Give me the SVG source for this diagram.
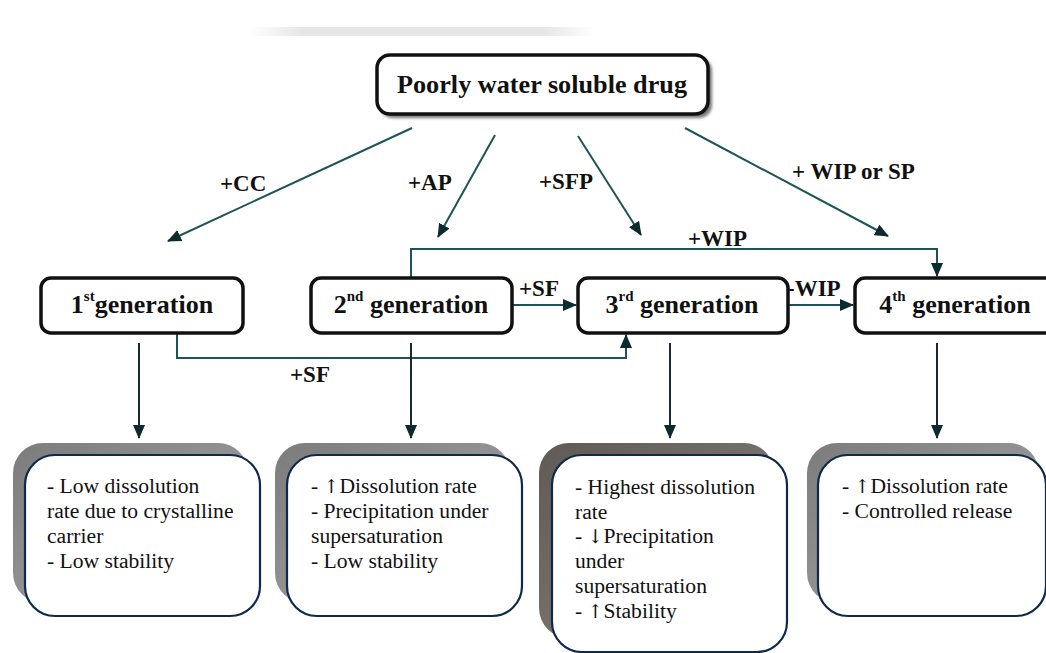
<svg xmlns="http://www.w3.org/2000/svg" width="1046" height="653" viewBox="0 0 1046 653">
<defs>
<marker id="ah" markerUnits="userSpaceOnUse" markerWidth="14" markerHeight="12" refX="13" refY="6" orient="auto">
<path d="M0,0 L14,6 L0,12 z" fill="#0b2b2e"/>
</marker>
<linearGradient id="topbar" x1="0" y1="0" x2="1" y2="0">
<stop offset="0" stop-color="#e6e6e6" stop-opacity="0"/>
<stop offset="0.15" stop-color="#e6e6e6"/>
<stop offset="0.85" stop-color="#e6e6e6"/>
<stop offset="1" stop-color="#e6e6e6" stop-opacity="0"/>
</linearGradient>
<linearGradient id="sh" x1="0" y1="0" x2="1" y2="1">
<stop offset="0" stop-color="#7c7c7c"/>
<stop offset="1" stop-color="#a8a8a8"/>
</linearGradient>
<linearGradient id="sh3" x1="0" y1="0" x2="1" y2="1">
<stop offset="0" stop-color="#5f5a55"/>
<stop offset="1" stop-color="#8a847e"/>
</linearGradient>
<filter id="blur" x="-10%" y="-10%" width="120%" height="120%"><feGaussianBlur stdDeviation="1.5"/></filter>
</defs>
<style>
.box{fill:#fff;stroke:#111;stroke-width:3.5}
.det{fill:#fff;stroke:#0d2a4a;stroke-width:2.2}
.conn{fill:none;stroke:#1d5459;stroke-width:2}
.dn{fill:none;stroke:#1a2a2e;stroke-width:2}
.lbl{font-family:"Liberation Serif","Times New Roman",serif;font-weight:bold;font-size:23px;fill:#111}
.gen{font-family:"Liberation Serif","Times New Roman",serif;font-weight:bold;font-size:26px;fill:#111}
.sup{font-size:15px}
.txt{font-family:"Liberation Serif","Times New Roman",serif;font-size:21.6px;fill:#111}
.arr{font-family:"DejaVu Serif","Liberation Serif",serif;font-size:19px;fill:#111}
</style>
<rect width="1046" height="653" fill="#fff"/>
<rect x="250" y="27" width="345" height="9" fill="url(#topbar)"/>

<g id="node-top">
<rect x="380" y="58" width="332" height="60" rx="13" fill="#777" filter="url(#blur)"/>
<rect class="box" x="377" y="55" width="331" height="59" rx="13"/>
<text class="gen" x="542" y="93" text-anchor="middle" font-size="28" textLength="290" lengthAdjust="spacingAndGlyphs">Poorly water soluble drug</text>
</g>

<g id="connectors">
<line class="conn" x1="412" y1="128" x2="168" y2="241" marker-end="url(#ah)"/>
<line class="conn" x1="495" y1="135" x2="438" y2="237" marker-end="url(#ah)"/>
<line class="conn" x1="578" y1="136" x2="641" y2="235" marker-end="url(#ah)"/>
<line class="conn" x1="685" y1="128" x2="888" y2="236" marker-end="url(#ah)"/>
<polyline class="conn" points="411,277 411,249 937,249 937,276" marker-end="url(#ah)"/>
<line class="conn" x1="512" y1="305" x2="576" y2="305" marker-end="url(#ah)"/>
<line class="conn" x1="788" y1="305" x2="853" y2="305" marker-end="url(#ah)"/>
<polyline class="conn" points="177,333 177,358 626,358 626,335" marker-end="url(#ah)"/>
<line class="dn" x1="139" y1="343" x2="139" y2="438" marker-end="url(#ah)"/>
<line class="dn" x1="411" y1="343" x2="411" y2="438" marker-end="url(#ah)"/>
<line class="dn" x1="670" y1="343" x2="670" y2="438" marker-end="url(#ah)"/>
<line class="dn" x1="937" y1="343" x2="937" y2="438" marker-end="url(#ah)"/>
</g>

<g id="labels">
<text class="lbl" x="220" y="191">+CC</text>
<text class="lbl" x="408" y="190">+AP</text>
<text class="lbl" x="539" y="189">+SFP</text>
<text class="lbl" x="792" y="179">+ WIP or SP</text>
<text class="lbl" x="688" y="246">+WIP</text>
<text class="lbl" x="519" y="296">+SF</text>
<text class="lbl" x="787" y="296">-WIP</text>
<text class="lbl" x="290" y="382">+SF</text>
</g>

<g id="node-gen1">
<rect class="box" x="41" y="278" width="202" height="55" rx="10"/>
<text class="gen" x="142" y="313" text-anchor="middle">1<tspan class="sup" dy="-12">st</tspan><tspan dy="12">generation</tspan></text>
</g>
<g id="node-gen2">
<rect class="box" x="311" y="278" width="201" height="55" rx="10"/>
<text class="gen" x="411" y="313" text-anchor="middle">2<tspan class="sup" dy="-12">nd</tspan><tspan dy="12"> generation</tspan></text>
</g>
<g id="node-gen3">
<rect class="box" x="578" y="278" width="210" height="55" rx="10"/>
<text class="gen" x="682" y="313" text-anchor="middle">3<tspan class="sup" dy="-12">rd</tspan><tspan dy="12"> generation</tspan></text>
</g>
<g id="node-gen4">
<rect class="box" x="855" y="278" width="210" height="55" rx="10"/>
<text class="gen" x="955" y="313" text-anchor="middle">4<tspan class="sup" dy="-12">th</tspan><tspan dy="12"> generation</tspan></text>
</g>

<g id="node-det1">
<rect x="13" y="443" width="235" height="160" rx="30" fill="url(#sh)"/>
<rect class="det" x="25" y="455" width="235" height="161" rx="30"/>
<text class="txt" x="47" y="493">- Low dissolution</text>
<text class="txt" x="47" y="518">rate due to crystalline</text>
<text class="txt" x="47" y="543">carrier</text>
<text class="txt" x="47" y="568">- Low stability</text>
</g>
<g id="node-det2">
<rect x="275" y="443" width="235" height="160" rx="30" fill="url(#sh)"/>
<rect class="det" x="287" y="455" width="235" height="161" rx="30"/>
<text class="txt" x="311" y="493">- <tspan class="arr">↑</tspan>Dissolution rate</text>
<text class="txt" x="311" y="518">- Precipitation under</text>
<text class="txt" x="311" y="543">supersaturation</text>
<text class="txt" x="311" y="568">- Low stability</text>
</g>
<g id="node-det3">
<rect x="539" y="443" width="235" height="195" rx="30" fill="url(#sh3)"/>
<rect class="det" x="552" y="455" width="235" height="197" rx="30"/>
<text class="txt" x="575" y="494">- Highest dissolution</text>
<text class="txt" x="575" y="519">rate</text>
<text class="txt" x="575" y="543">- <tspan class="arr">↓</tspan>Precipitation</text>
<text class="txt" x="575" y="568">under</text>
<text class="txt" x="575" y="593">supersaturation</text>
<text class="txt" x="575" y="618">-  <tspan class="arr">↑</tspan>Stability</text>
</g>
<g id="node-det4">
<rect x="807" y="443" width="232" height="160" rx="30" fill="url(#sh)"/>
<rect class="det" x="818" y="455" width="228" height="161" rx="30"/>
<text class="txt" x="842" y="493">-  <tspan class="arr">↑</tspan>Dissolution rate</text>
<text class="txt" x="842" y="518">- Controlled release</text>
</g>
</svg>
